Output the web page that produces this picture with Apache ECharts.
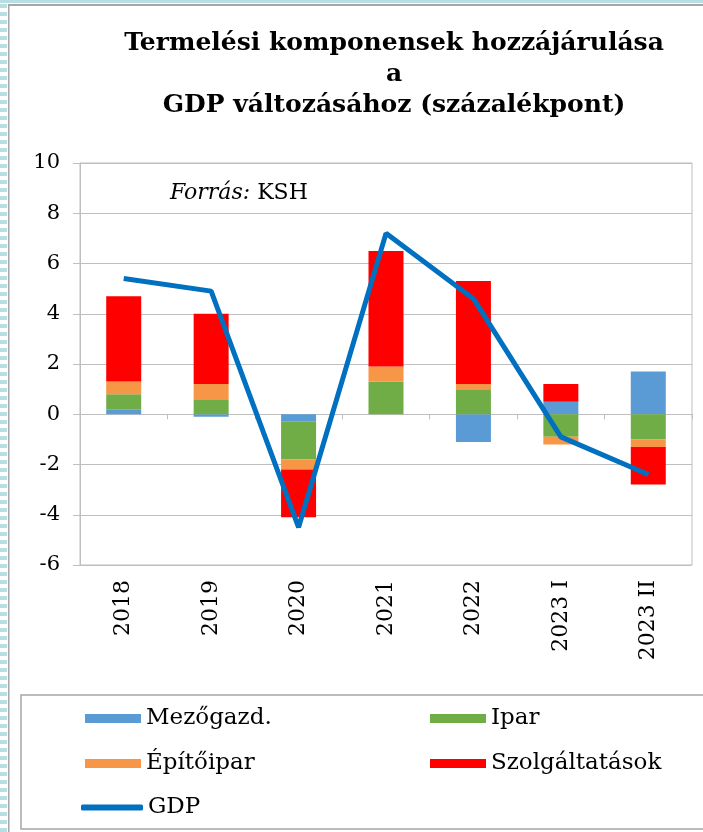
<!DOCTYPE html>
<html>
<head>
<meta charset="utf-8">
<script src="https://cdn.jsdelivr.net/npm/echarts@6/dist/echarts.min.js"></script>
<style>
  html, body { margin: 0; padding: 0; background: #fff; }
  #chart { width: 703px; height: 832px; }
</style>
</head>
<body>
<div id="chart"></div>
<script>
var categories = ['2018', '2019', '2020', '2021', '2022', '2023 I', '2023 II'];
var mezogazd = [0.2, -0.1, -0.3, 0.0, -1.1, 0.5, 1.7];
var ipar = [0.6, 0.6, -1.5, 1.3, 1.0, -0.9, -1.0];
var epitoipar = [0.5, 0.6, -0.4, 0.6, 0.2, -0.3, -0.3];
var szolg = [3.4, 2.8, -1.9, 4.6, 4.1, 0.7, -1.5];
var gdp = [5.4, 4.9, -4.5, 7.2, 4.6, -0.9, -2.4];

var serif = '"DejaVu Serif", serif';
var chart = echarts.init(document.getElementById('chart'));

// decorative frame: striped left edge, top band, grey border
var deco = [
    { type: 'rect', shape: { x: 0, y: 0, width: 703, height: 3 }, style: { fill: '#B7DFE3' } },
    { type: 'rect', shape: { x: 8, y: 4, width: 695, height: 2 }, style: { fill: '#A6A6A6' } },
    { type: 'rect', shape: { x: 8, y: 4, width: 1.5, height: 828 }, style: { fill: '#A6A6A6' } },
    { type: 'rect', shape: { x: 21, y: 695, width: 690, height: 134 },
      style: { fill: 'none', stroke: '#A6A6A6', lineWidth: 1.5 } }
];
for (var y = 4; y < 832; y += 8) {
    deco.push({ type: 'rect', shape: { x: 0, y: y, width: 7, height: 4 }, style: { fill: '#B7DFE3' } });
}
deco.push({
    type: 'text',
    style: {
        x: 394, y: 28, text: 'Termelési komponensek hozzájárulása\na\nGDP változásához (százalékpont)',
        font: 'bold 25px ' + serif, fill: '#000', align: 'center', lineHeight: 31
    }
});
deco.push({
    type: 'text',
    style: {
        x: 170, y: 182, text: '{i|Forrás:} KSH',
        font: '22px ' + serif, fill: '#000',
        rich: { i: { fontStyle: 'italic', fontSize: 22, fontFamily: serif } }
    }
});

function legendAt(item, left, top, w, h) {
    return {
        data: [item], left: left, top: top, padding: 0,
        icon: 'rect', itemWidth: w || 56, itemHeight: h || 9, itemGap: 0,
        textStyle: { fontFamily: serif, fontSize: 23, color: '#000' },
        selectedMode: false
    };
}

var option = {
    animation: false,
    backgroundColor: '#fff',
    graphic: deco,
    legend: [
        legendAt('Mezőgazd.', 85, 707),
        legendAt('Ipar', 430, 707),
        legendAt('Építőipar', 85, 752),
        legendAt('Szolgáltatások', 430, 752),
        legendAt({ name: 'GDP', icon: 'roundRect', itemStyle: { color: '#0070C0' } }, 81, 796, 62, 6)
    ],
    grid: { left: 80, right: 11, top: 163, bottom: 267, show: true, borderColor: '#BFBFBF', borderWidth: 1 },
    xAxis: [
        {
            type: 'category', data: categories,
            axisLine: { show: false, onZero: false },
            axisTick: { show: false },
            axisLabel: { rotate: 90, interval: 0, margin: 15, fontFamily: serif, fontSize: 22, color: '#000' }
        },
        {
            type: 'category', data: categories, position: 'bottom',
            axisLine: { show: true, onZero: true, lineStyle: { color: '#BFBFBF', width: 1 } },
            axisTick: { show: true, length: 5, lineStyle: { color: '#BFBFBF' } },
            axisLabel: { show: false }
        }
    ],
    yAxis: {
        type: 'value', min: -6, max: 10, interval: 2,
        axisLine: { show: true, lineStyle: { color: '#BFBFBF' } },
        axisTick: { show: true, length: 7, lineStyle: { color: '#BFBFBF' } },
        splitLine: { lineStyle: { color: '#BFBFBF' } },
        axisLabel: { margin: 20, fontFamily: serif, fontSize: 21, color: '#000' }
    },
    series: [
        { name: 'Mezőgazd.', type: 'bar', stack: 'total', barWidth: 35, data: mezogazd, itemStyle: { color: '#5B9BD5' } },
        { name: 'Ipar', type: 'bar', stack: 'total', barWidth: 35, data: ipar, itemStyle: { color: '#70AD47' } },
        { name: 'Építőipar', type: 'bar', stack: 'total', barWidth: 35, data: epitoipar, itemStyle: { color: '#F79646' } },
        { name: 'Szolgáltatások', type: 'bar', stack: 'total', barWidth: 35, data: szolg, itemStyle: { color: '#FF0000' } },
        {
            name: 'GDP', type: 'line', data: gdp, symbol: 'none', z: 5,
            lineStyle: { color: '#0070C0', width: 5 }, itemStyle: { color: '#0070C0' }
        }
    ]
};
chart.setOption(option);
</script>
</body>
</html>
